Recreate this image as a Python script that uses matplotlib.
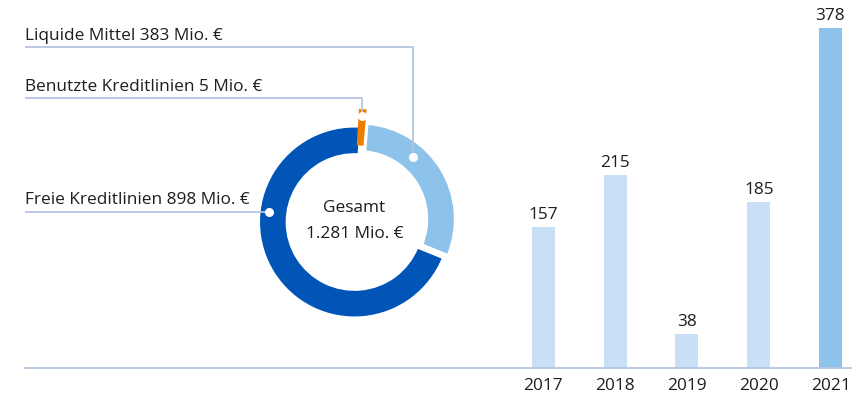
import matplotlib.pyplot as plt
import numpy as np
from matplotlib.lines import Line2D

# Liquidity split in Mio. € (drawn clockwise from 12 o'clock)
segment_labels = ["Benutzte Kreditlinien 5 Mio. €",
                  "Liquide Mittel 383 Mio. €",
                  "Freie Kreditlinien 898 Mio. €"]
segment_values = [5, 383, 898]
total_label = "1.281 Mio. €"

# Yearly values in Mio. €
years = ["2017", "2018", "2019", "2020", "2021"]
values = [157, 215, 38, 185, 378]

DARK = "#0055b7"
LIGHT = "#8dc3ea"
PALE = "#c9dff5"
ORANGE = "#f07d00"
LEADER = "#b5c5e2"
TEXT = "#1e1e1e"

plt.rcParams["font.family"] = ["Open Sans", "DejaVu Sans"]
FS = 12.4

fig = plt.figure(figsize=(8.53, 3.98), dpi=100)

# --- donut (1 data unit = outer radius) ---
ax = fig.add_axes([0, 0, 480 / 853, 1])
wedges, _ = ax.pie(segment_values, colors=[ORANGE, LIGHT, DARK],
                   startangle=86.5, counterclock=False,
                   explode=[0.06, 0.06, 0], radius=1,
                   wedgeprops=dict(width=0.29, edgecolor="white", linewidth=1.5))
ax.set_xlim(-3.712, 1.314)
ax.set_ylim(-1.843, 2.325)
ax.set_aspect("equal")
ax.axis("off")

# the tiny orange slice sticks out of the ring
orange = wedges[0]
orange.set_radius(1.1)
orange.set_width(0.33)
orange.set_edgecolor(ORANGE)
orange.set_linewidth(3.6)
orange.set_zorder(5)

ax.text(0, 0.15, "Gesamt", ha="center", va="center", fontsize=FS, color=TEXT)
ax.text(0, -0.13, total_label, ha="center", va="center", fontsize=FS, color=TEXT)

x_text = -3.45
label_y = [1.302, 1.832, None]

def point_on(wedge, angle_deg, r):
    cx, cy = wedge.center
    a = np.deg2rad(angle_deg)
    return cx + r * np.cos(a), cy + r * np.sin(a)

dots = [
    point_on(wedges[0], (orange.theta1 + orange.theta2) / 2, 1.05),
    point_on(wedges[1], 49, 0.86),
    point_on(wedges[2], 173, 0.9),
]

for label, (dx, dy), ly in zip(segment_labels, dots, label_y):
    if ly is None:
        ly = dy
        xs, ys = [dx, x_text], [dy, dy]
    else:
        xs, ys = [dx, dx, x_text], [dy, ly, ly]
    ax.plot(xs, ys, color=LEADER, lw=1.3, zorder=6, solid_capstyle="butt")
    ax.plot(dx, dy, "o", ms=5.5, color="white", zorder=7)
    ax.text(x_text, ly + 0.075, label, ha="left", va="baseline",
            fontsize=FS, color=TEXT)

# --- bars ---
ax2 = fig.add_axes([480 / 853, 30 / 398, 373 / 853, 368 / 398])
x = np.arange(len(years))
bars = ax2.bar(x, values, width=0.32,
               color=[PALE] * (len(years) - 1) + [LIGHT])
ax2.bar_label(bars, padding=3, fontsize=FS, color=TEXT)
ax2.set_xlim(-0.882, 4.3125)
ax2.set_ylim(0, 409.5)
ax2.set_xticks(x, years, fontsize=FS, color=TEXT)
ax2.tick_params(axis="x", length=0, pad=7)
ax2.set_yticks([])
for s in ax2.spines.values():
    s.set_visible(False)

# common baseline
fig.add_artist(Line2D([25 / 853, 1], [30 / 398, 30 / 398],
                      transform=fig.transFigure, color=LEADER, lw=1.3))

fig.savefig("out.png", dpi=100)
